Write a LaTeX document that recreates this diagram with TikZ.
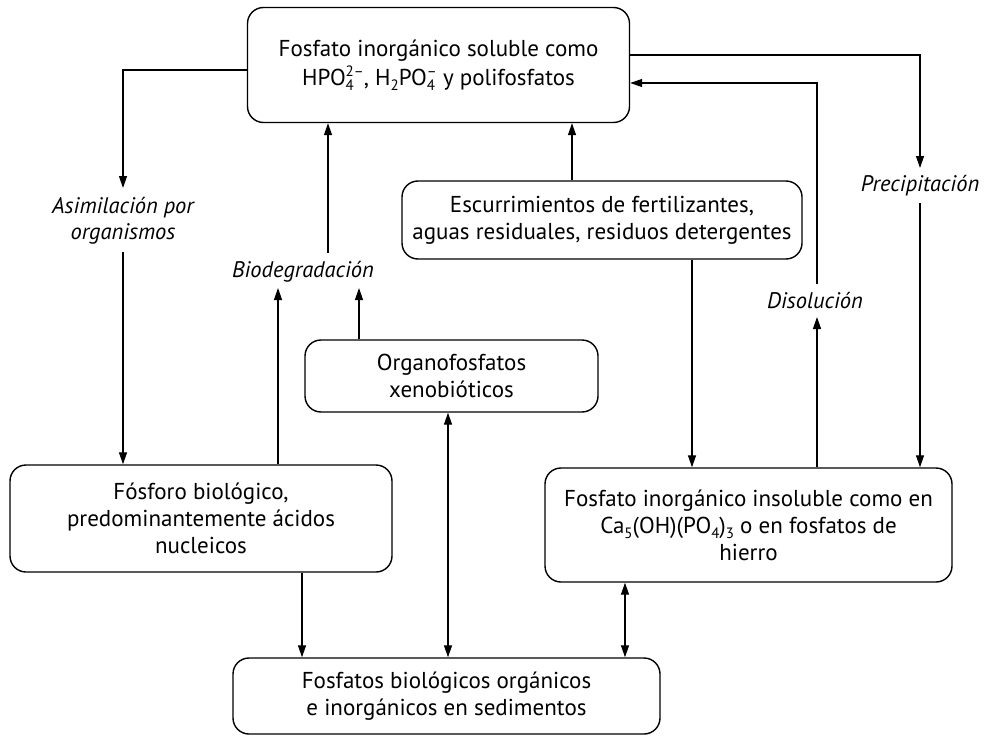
\documentclass[tikz,border=0pt]{standalone}
\usepackage{fontspec}
\setmainfont{PT Sans}
\usetikzlibrary{arrows.meta}
\newcommand\chemss[2]{\raisebox{-5.5pt}{\fontsize{15}{14}\selectfont\shortstack[l]{#2\\#1}}}
\newcommand\chemsb[1]{\raisebox{-5.5pt}{\fontsize{15}{14}\selectfont #1}}
\tikzset{
  box/.style={draw, line width=1.4pt, rounded corners=16pt, align=center, inner sep=0pt,
    font=\fontsize{23}{27}\selectfont},
  lbl/.style={align=center, inner sep=0pt, font=\fontsize{22.5}{26}\selectfont\itshape},
  arr/.style={line width=1.3pt, -{Triangle[length=12pt,width=8pt]}},
  darr/.style={line width=1.3pt, {Triangle[length=12pt,width=8pt]}-{Triangle[length=12pt,width=8pt]}},
  ln/.style={line width=1.3pt}
}
\begin{document}
\begin{tikzpicture}[x=1pt,y=-1pt]
\useasboundingbox (0,0) rectangle (989,736);
% boxes
\node[box, minimum width=382pt, minimum height=115pt] (top) at (438.5,65)
  {Fosfato inorgánico soluble como\\[2pt]HPO\chemss{4}{2–}, H\chemsb{2}PO\chemss{4}{–} y polifosfatos};
\node[box, minimum width=400pt, minimum height=78pt] (esc) at (602,220)
  {Escurrimientos de fertilizantes,\\aguas residuales, residuos detergentes};
\node[box, minimum width=293pt, minimum height=72pt] (org) at (451.5,376)
  {Organofosfatos\\xenobióticos};
\node[box, minimum width=382pt, minimum height=107pt] (fos) at (201,518.5)
  {Fósforo biológico,\\predominantemente ácidos\\nucleicos};
\node[box, minimum width=407pt, minimum height=114pt] (ins) at (748.5,525)
  {Fosfato inorgánico insoluble como en\\Ca\chemsb{5}(OH)(PO\chemsb{4})\chemsb{3} o en fosfatos de\\hierro};
\node[box, minimum width=427pt, minimum height=76pt] (sed) at (446.5,696)
  {Fosfatos biológicos orgánicos\\e inorgánicos en sedimentos};
% labels
\node[lbl] (asim) at (123,221) {Asimilación por\\organismos};
\node[lbl] (bio) at (303,272) {Biodegradación};
\node[lbl] (pre) at (920,186) {Precipitación};
\node[lbl] (dis) at (815,301) {Disolución};
% coordinates
\coordinate (asimT) at (123,188);
\coordinate (asimB) at (123,252);
\coordinate (bioT) at (328,253);
\coordinate (bioBL) at (278,288);
\coordinate (bioBR) at (359,288);
\coordinate (preT) at (920,168);
\coordinate (preB) at (920,203);
\coordinate (disT) at (817,284);
\coordinate (disB) at (817,317);
% connectors
\draw[arr] (top.west |- 0,70) -| (asimT);
\draw[arr] (asimB) -- (asimB |- fos.north);
\draw[arr] (bioT) -- (bioT |- top.south);
\draw[arr] (bioBL |- fos.north) -- (bioBL);
\draw[arr] (bioBR |- org.north) -- (bioBR);
\draw[arr] (572,0 |- esc.north) -- (572,0 |- top.south);
\draw[arr] (692,0 |- esc.south) -- (692,0 |- ins.north);
\draw[arr] (top.east |- 0,55) -| (preT);
\draw[arr] (preB) -- (preB |- ins.north);
\draw[arr] (disB |- ins.north) -- (disB);
\draw[arr] (disT) |- (top.east |- 0,83);
\draw[arr] (302,0 |- fos.south) -- (302,0 |- sed.north);
\draw[darr] (448,0 |- org.south) -- (448,0 |- sed.north);
\draw[darr] (625,0 |- ins.south) -- (625,0 |- sed.north);
\end{tikzpicture}
\end{document}
